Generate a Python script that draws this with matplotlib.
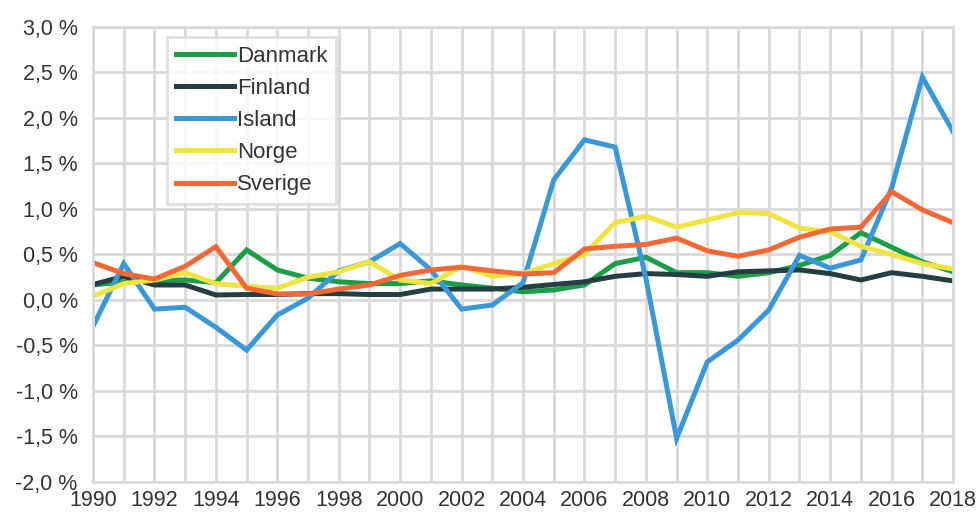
import numpy as np
import matplotlib.pyplot as plt

years = list(range(1990, 2019))

danmark = [0.165, 0.20, 0.21, 0.22, 0.19, 0.55, 0.33, 0.24, 0.20, 0.18, 0.18, 0.21, 0.165, 0.13, 0.09,
           0.11, 0.165, 0.40, 0.47, 0.30, 0.30, 0.26, 0.30, 0.38, 0.49, 0.74, 0.58, 0.42, 0.31]
finland = [0.17, 0.26, 0.165, 0.165, 0.055, 0.06, 0.06, 0.07, 0.07, 0.06, 0.06, 0.12, 0.12, 0.12, 0.14,
           0.17, 0.20, 0.26, 0.29, 0.28, 0.26, 0.31, 0.32, 0.33, 0.29, 0.22, 0.30, 0.26, 0.21]
island = [-0.29, 0.40, -0.10, -0.08, -0.30, -0.55, -0.165, 0.02, 0.32, 0.42, 0.62, 0.33, -0.10, -0.055, 0.19,
          1.32, 1.76, 1.68, 0.24, -1.52, -0.68, -0.44, -0.11, 0.49, 0.35, 0.44, 1.23, 2.45, 1.85]
norge = [0.04, 0.18, 0.22, 0.30, 0.18, 0.15, 0.13, 0.25, 0.31, 0.42, 0.22, 0.18, 0.37, 0.26, 0.29,
         0.40, 0.50, 0.85, 0.92, 0.80, 0.88, 0.96, 0.95, 0.79, 0.75, 0.59, 0.50, 0.40, 0.34]
sverige = [0.41, 0.29, 0.23, 0.37, 0.585, 0.13, 0.066, 0.066, 0.12, 0.165, 0.27, 0.33, 0.36, 0.32, 0.285,
           0.30, 0.56, 0.59, 0.61, 0.68, 0.54, 0.48, 0.55, 0.69, 0.78, 0.80, 1.19, 0.99, 0.85]

series = [("Danmark", danmark, "#1c9d48"),
          ("Finland", finland, "#243e44"),
          ("Island", island, "#3a98d8"),
          ("Norge", norge, "#f0e443"),
          ("Sverige", sverige, "#f26836")]

plt.rcParams['font.family'] = ['Liberation Sans', 'DejaVu Sans']
txt = "#333333"
grid = "#d9d9d9"

fig = plt.figure(figsize=(9.79, 5.12), dpi=100)
ax = fig.add_axes([0.095, 0.0586, 0.8785, 0.8887])

for name, vals, col in series:
    ax.plot(years, vals, color=col, lw=3.6, label=name, solid_joinstyle='miter')

ax.set_xlim(1990, 2018)
ax.set_ylim(-2.0, 3.0)
ax.set_xticks(range(1990, 2019, 2))
ax.set_xticks(range(1990, 2019), minor=True)
ax.set_yticks(np.arange(-2.0, 3.01, 0.5))
ax.set_yticklabels([f"{v:.1f} %".replace(".", ",") for v in np.arange(-2.0, 3.01, 0.5)])
ax.grid(True, which='both', color=grid, lw=2)
ax.set_axisbelow(True)
ax.tick_params(which='both', length=0, labelsize=15.5, colors=txt)
ax.tick_params(axis='y', pad=11)
ax.tick_params(axis='x', pad=6)
for s in ax.spines.values():
    s.set_color(grid)
    s.set_linewidth(2)

leg = ax.legend(loc='upper left', bbox_to_anchor=(0.086, 0.978), borderaxespad=0,
                fontsize=16, frameon=True, fancybox=False, handlelength=2.6,
                handletextpad=0.15, labelspacing=0.5, borderpad=0.4)
leg.get_frame().set_edgecolor(grid)
leg.get_frame().set_linewidth(2)
for t in leg.get_texts():
    t.set_color(txt)

fig.savefig("out.png", dpi=100)
